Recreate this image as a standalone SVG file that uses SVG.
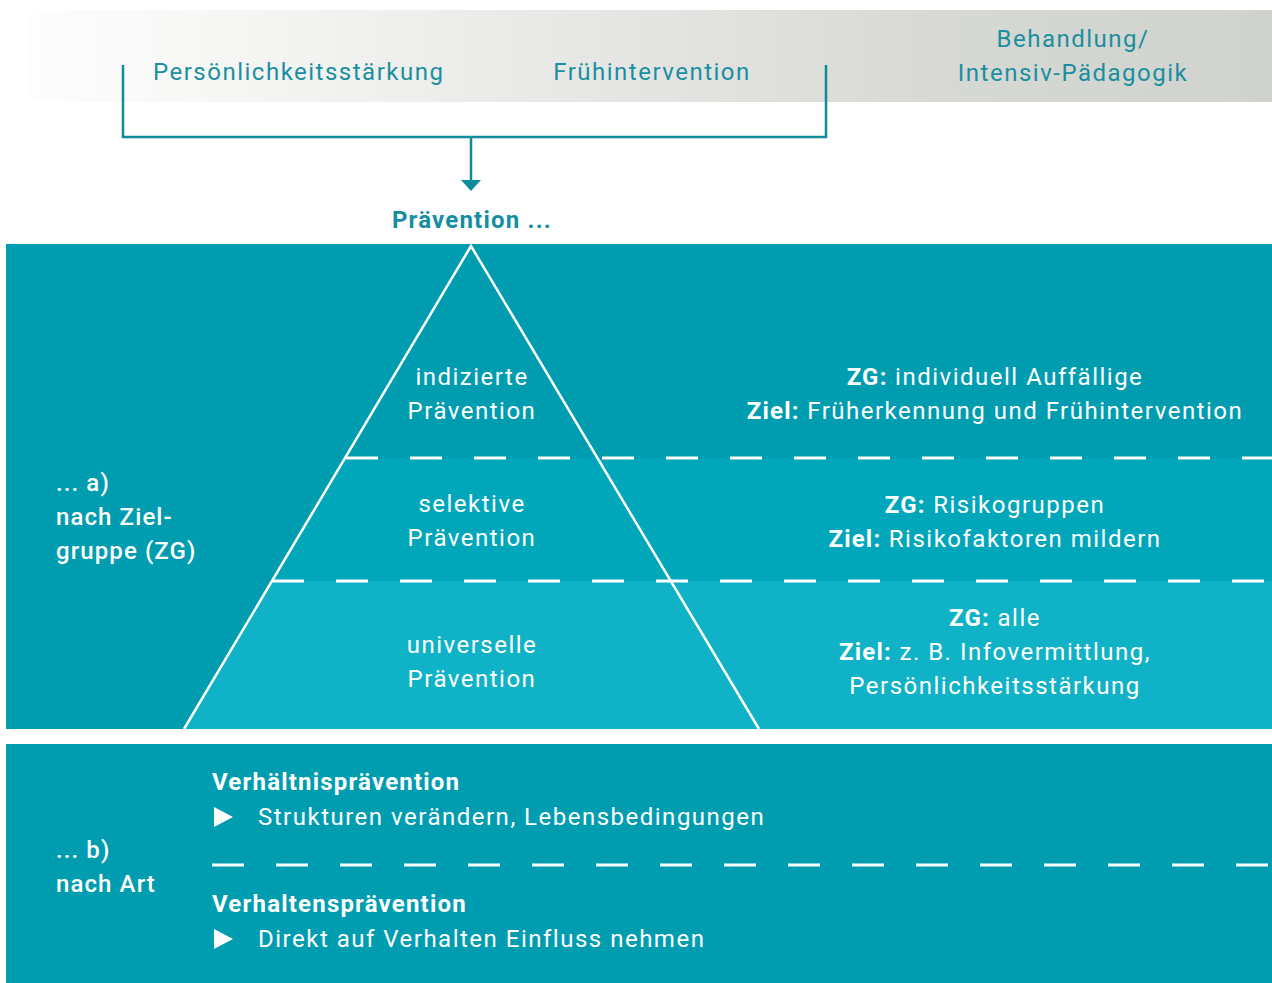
<svg xmlns="http://www.w3.org/2000/svg" width="1272" height="983" viewBox="0 0 1272 983">
  <defs>
    <linearGradient id="band" gradientUnits="userSpaceOnUse" x1="30" y1="0" x2="1272" y2="0">
      <stop offset="0" stop-color="#fdfdfd"/>
      <stop offset="0.1" stop-color="#f9f9f8"/>
      <stop offset="0.5" stop-color="#e4e5e2"/>
      <stop offset="0.75" stop-color="#d6d8d3"/>
      <stop offset="1" stop-color="#d0d2cd"/>
    </linearGradient>
    <style>
      .t { font-family: Roboto, "Liberation Sans", sans-serif; font-size: 24px; letter-spacing: 1.5px; }
      .top { fill: #1a8fa1; }
      .w { fill: #ffffff; }
      .b { font-weight: bold; letter-spacing: 1.2px; }
      .md { font-weight: 500; letter-spacing: 1.1px; }
      .m { text-anchor: middle; }
      .dash { stroke: #ffffff; stroke-width: 3; stroke-dasharray: 32 32; fill: none; }
      .edge { stroke: #ffffff; stroke-width: 2.5; fill: none; }
      .con { stroke: #0e8c9c; stroke-width: 2.5; fill: none; }
    </style>
  </defs>
  <rect width="1272" height="983" fill="#ffffff"/>

  <g id="top-band">
    <rect x="30" y="10" width="1242" height="92" fill="url(#band)"/>
    <text class="t top" x="153" y="80">Persönlichkeitsstärkung</text>
    <text class="t top m" x="652" y="80">Frühintervention</text>
    <text class="t top m" x="1073" y="47">Behandlung/</text>
    <text class="t top m" x="1073" y="81">Intensiv-Pädagogik</text>
  </g>

  <g id="connectors">
    <polyline class="con" points="123,65 123,137 826,137 826,65"/>
    <line class="con" x1="471" y1="137" x2="471" y2="182"/>
    <polygon points="461,180 481,180 471,191" fill="#0e8c9c"/>
  </g>

  <g id="praevention-title">
    <text class="t b m" x="472" y="228" fill="#148ea0">Prävention ...</text>
  </g>

  <g id="panel-a">
    <rect x="6" y="244" width="1266" height="485" fill="#009db1"/>
    <polygon points="345,458 1272,458 1272,581 272,581" fill="#00a7bb"/>
    <polygon points="272,581 1272,581 1272,729 184,729" fill="#0fb2c6"/>
    <line class="dash" x1="346" y1="458" x2="1272" y2="458"/>
    <line class="dash" x1="272" y1="581" x2="1272" y2="581"/>
    <polyline class="edge" points="184,729 471,246 759,729"/>
    <text class="t w md" x="56" y="491">... a)</text>
    <text class="t w md" x="56" y="525">nach Ziel-</text>
    <text class="t w md" x="56" y="559">gruppe (ZG)</text>
  </g>

  <g id="level-indiziert">
    <text class="t w m" x="472" y="385">indizierte</text>
    <text class="t w m" x="472" y="419">Prävention</text>
    <text class="t w m" x="995" y="385"><tspan class="b">ZG:</tspan> individuell Auffällige</text>
    <text class="t w m" x="995" y="419"><tspan class="b">Ziel:</tspan> Früherkennung und Frühintervention</text>
  </g>

  <g id="level-selektiv">
    <text class="t w m" x="472" y="512">selektive</text>
    <text class="t w m" x="472" y="546">Prävention</text>
    <text class="t w m" x="995" y="513"><tspan class="b">ZG:</tspan> Risikogruppen</text>
    <text class="t w m" x="995" y="547"><tspan class="b">Ziel:</tspan> Risikofaktoren mildern</text>
  </g>

  <g id="level-universell">
    <text class="t w m" x="472" y="653">universelle</text>
    <text class="t w m" x="472" y="687">Prävention</text>
    <text class="t w m" x="995" y="626"><tspan class="b">ZG:</tspan> alle</text>
    <text class="t w m" x="995" y="660"><tspan class="b">Ziel:</tspan> z. B. Infovermittlung,</text>
    <text class="t w m" x="995" y="694">Persönlichkeitsstärkung</text>
  </g>

  <g id="panel-b">
    <rect x="6" y="744" width="1266" height="239" fill="#009db1"/>
    <line class="dash" x1="212" y1="865" x2="1272" y2="865"/>
    <text class="t w md" x="56" y="858">... b)</text>
    <text class="t w md" x="56" y="892">nach Art</text>
  </g>

  <g id="verhaeltnis">
    <text class="t w b" x="212" y="790">Verhältnisprävention</text>
    <polygon points="214,807 233,817 214,827" fill="#ffffff"/>
    <text class="t w" x="258" y="825">Strukturen verändern, Lebensbedingungen</text>
  </g>

  <g id="verhalten">
    <text class="t w b" x="212" y="912">Verhaltensprävention</text>
    <polygon points="214,929 233,939 214,949" fill="#ffffff"/>
    <text class="t w" x="258" y="947">Direkt auf Verhalten Einfluss nehmen</text>
  </g>
</svg>
